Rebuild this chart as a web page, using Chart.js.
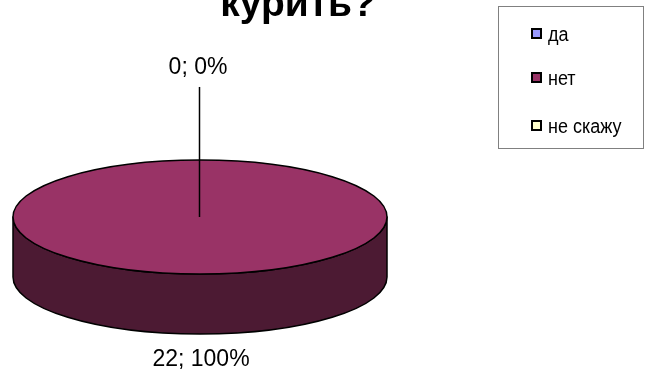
<!DOCTYPE html>
<html>
  <head>
    <title>курить?</title>
    <script src="https://cdn.jsdelivr.net/npm/chart.js"></script>
    <style>
      html, body {
        margin: 0;
        padding: 0;
        background: #fff;
        overflow: hidden;
      }
      .wrap {
        position: relative;
        width: 647px;
        height: 376px;
      }
      .title {
        position: absolute;
        left: 198px;
        width: 200px;
        top: -19px;
        text-align: center;
        font-family: "Liberation Sans", Arial, sans-serif;
        font-weight: bold;
        font-size: 39px;
        line-height: 44px;
        color: #000;
      }
      .legend {
        position: absolute;
        left: 498px;
        top: 6px;
        width: 146px;
        height: 143px;
        border: 1px solid #808080;
        box-sizing: border-box;
        font-family: "Liberation Sans", Arial, sans-serif;
        font-size: 20px;
        color: #000;
      }
      .legend .row {
        position: absolute;
        left: 32px;
        height: 20px;
        line-height: 20px;
        white-space: nowrap;
      }
      .legend .box {
        position: absolute;
        left: 0;
        top: 4px;
        width: 7px;
        height: 7px;
        border: 2px solid #000;
      }
      .legend .txt {
        position: absolute;
        left: 17px;
        top: 0;
        transform: scaleX(0.9);
        transform-origin: left center;
      }
      #chart {
        position: absolute;
        left: 0;
        top: 0;
      }
    </style>
  </head>
  <body>
    <div class="wrap">
      <canvas id="chart" width="647" height="376"></canvas>
      <div class="title">курить?</div>
      <div class="legend" id="legend"></div>
    </div>

    <script>
      const labels = ['да', 'нет', 'не скажу'];
      const values = [0, 22, 0];
      const colors = ['#9999ff', '#993366', '#ffffcc'];
      const sideColors = ['#4c4c80', '#4c1a33', '#808066'];

      const tilt = 0.305;   // vertical squash of the pie
      const depth = 60;     // thickness of the disc

      // Legend rows
      const legendTops = [17, 61, 109];
      const legend = document.getElementById('legend');
      labels.forEach((name, i) => {
        const row = document.createElement('div');
        row.className = 'row';
        row.style.top = legendTops[i] + 'px';
        row.innerHTML = '<span class="box" style="background:' + colors[i] + '"></span>' +
          '<span class="txt">' + name + '</span>';
        legend.appendChild(row);
      });

      // Draws the pie as a tilted disc, using the arcs Chart.js laid out
      const pie3d = {
        id: 'pie3d',
        beforeDatasetsDraw(chart) {
          const ctx = chart.ctx;
          const arcs = chart.getDatasetMeta(0).data;
          const total = values.reduce((a, b) => a + b, 0);
          const props = ['x', 'y', 'startAngle', 'endAngle', 'outerRadius'];

          ctx.save();
          ctx.lineWidth = 1.5;
          ctx.lineJoin = 'round';
          ctx.strokeStyle = '#000';

          // side walls (front half only)
          arcs.forEach((arc, i) => {
            const {x, y, startAngle, endAngle, outerRadius} = arc.getProps(props);
            if (endAngle - startAngle <= 0) return;
            const rx = outerRadius, ry = outerRadius * tilt;
            [0, 2 * Math.PI].forEach(base => {
              const s = Math.max(startAngle, base);
              const e = Math.min(endAngle, base + Math.PI);
              if (e <= s) return;
              ctx.beginPath();
              ctx.ellipse(x, y, rx, ry, 0, s, e);
              ctx.ellipse(x, y + depth, rx, ry, 0, e, s, true);
              ctx.closePath();
              ctx.fillStyle = sideColors[i];
              ctx.fill();
              ctx.stroke();
            });
          });

          // top face
          arcs.forEach((arc, i) => {
            const {x, y, startAngle, endAngle, outerRadius} = arc.getProps(props);
            const span = endAngle - startAngle;
            if (span <= 0) return;
            const rx = outerRadius, ry = outerRadius * tilt;
            ctx.beginPath();
            if (span < 2 * Math.PI - 1e-6) ctx.moveTo(x, y);
            ctx.ellipse(x, y, rx, ry, 0, startAngle, endAngle);
            ctx.closePath();
            ctx.fillStyle = colors[i];
            ctx.fill();
            ctx.stroke();
          });

          // value labels
          ctx.font = '23px "Liberation Sans", Arial, sans-serif';
          ctx.fillStyle = '#000';
          ctx.textAlign = 'center';
          ctx.textBaseline = 'middle';
          const drawn = new Set();
          arcs.forEach((arc, i) => {
            const {x, y, startAngle, endAngle, outerRadius} = arc.getProps(props);
            const mid = (startAngle + endAngle) / 2;
            const rx = outerRadius, ry = outerRadius * tilt;
            const text = values[i] + '; ' + Math.round(values[i] / total * 100) + '%';
            const ex = x + rx * Math.cos(mid);
            let ey = y + ry * Math.sin(mid);
            if (Math.sin(mid) > 0) ey += depth;
            if (values[i] === 0) {
              // empty slice: label pulled out with a leader line to the centre
              const key = Math.round(ex) + ',' + Math.round(ey);
              if (drawn.has(key)) return;
              drawn.add(key);
              const ly = ey - 92;
              ctx.beginPath();
              ctx.moveTo(x - 0.5, ly + 19);
              ctx.lineTo(x - 0.5, y);
              ctx.lineWidth = 1.5;
              ctx.stroke();
              ctx.fillText(text, x - 2, ly);
            } else {
              const gap = 26;
              ctx.fillText(text, ex + 1 + gap * Math.cos(mid), ey + gap * Math.sin(mid));
            }
          });
          ctx.restore();
          return false;
        }
      };

      new Chart(document.getElementById('chart'), {
        type: 'pie',
        data: {
          labels: labels,
          datasets: [{
            data: values,
            backgroundColor: colors,
            borderWidth: 0
          }]
        },
        options: {
          responsive: false,
          animation: false,
          radius: 187,
          layout: {
            padding: {left: 13, right: 260, top: 58, bottom: 0}
          },
          plugins: {
            legend: {display: false},
            tooltip: {enabled: false}
          }
        },
        plugins: [pie3d]
      });
    </script>
  </body>
</html>
